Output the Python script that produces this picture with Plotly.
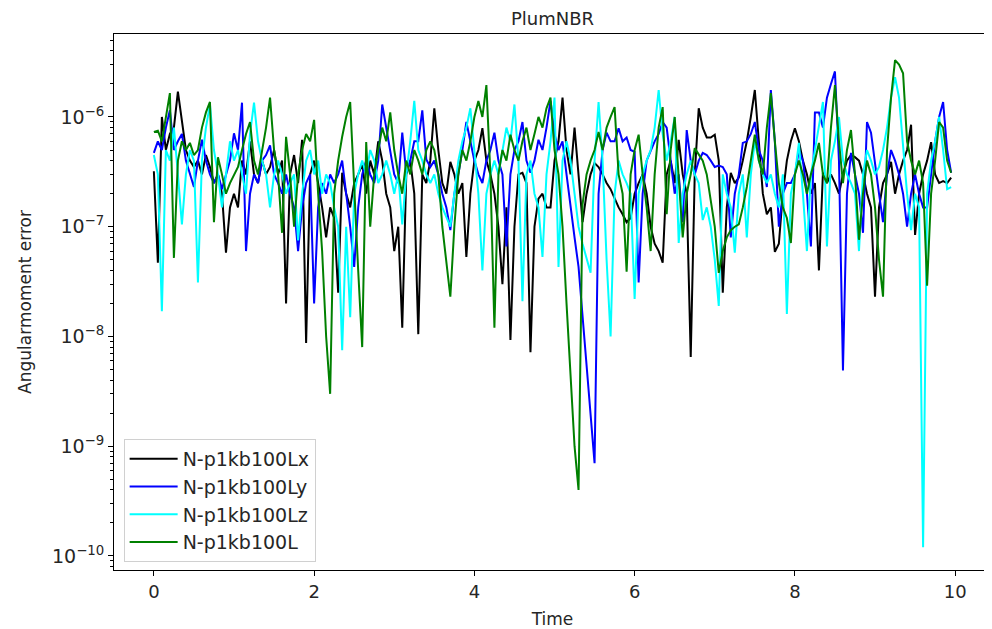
import numpy as np
import plotly.graph_objects as go

# Time samples
time = np.round(np.arange(200) * 0.05, 2)

err_lx = [
    3.2e-7, 4.7e-8, 1.0e-6, 5e-7, 7e-7, 8e-7, 1.7e-6, 9e-7, 5e-7, 4e-7,
    3.5e-7, 4e-7, 3e-7, 4.5e-7, 3.5e-7, 2.5e-7, 3e-7, 2e-7, 5.8e-8, 1.5e-7,
    2e-7, 1.5e-7, 4e-7, 3e-7, 6e-7, 3e-7, 2.5e-7, 4e-7, 3e-7, 3.5e-7,
    5e-7, 3e-7, 4e-7, 2e-8, 3e-7, 4.5e-7, 2.5e-7, 6.2e-7, 8.7e-9, 3e-7,
    4e-7, 2.5e-7, 1.5e-7, 8e-8, 1.5e-7, 1.2e-7, 2.5e-8, 3.1e-7, 2e-7, 1.5e-7,
    2.5e-7, 3e-7, 3.7e-7, 2e-7, 4e-7, 3e-7, 6e-7, 4e-7, 2e-7, 1.5e-7,
    6e-8, 1e-7, 1.2e-8, 3e-7, 4e-7, 2e-7, 1.05e-8, 3e-7, 2.5e-7, 4e-7,
    1.2e-6, 5e-7, 2.5e-7, 2e-7, 3.9e-7, 3e-7, 2e-7, 2.5e-7, 5.3e-8, 2e-7,
    4e-7, 5e-7, 7.9e-7, 4e-7, 3e-7, 2e-7, 1e-7, 3e-8, 1.5e-7, 9.3e-9,
    1e-7, 3e-7, 3.1e-7, 2.5e-7, 7.2e-9, 1e-7, 1.8e-7, 2e-7, 1.5e-7, 1.5e-7,
    4e-7, 6e-7, 1.5e-6, 5e-7, 3e-7, 8e-7, 3e-7, 1.1e-7, 2e-7, 3e-7,
    3.8e-7, 3.5e-7, 3e-7, 2.5e-7, 2.2e-7, 1.8e-7, 1.5e-7, 1.3e-7, 1.1e-7, 1.2e-7,
    2e-7, 2.5e-7, 3e-7, 2e-7, 1e-7, 7e-8, 6e-8, 4.7e-8, 3e-7, 4e-7,
    2.5e-7, 6.2e-7, 3e-7, 2e-7, 6.5e-9, 3e-7, 1.2e-6, 8e-7, 6.5e-7, 6.5e-7,
    6.9e-7, 4e-7, 2.5e-8, 1.5e-7, 3.1e-7, 2.5e-7, 2.8e-7, 4e-7, 6e-7, 1e-6,
    1.76e-6, 6e-7, 2e-7, 1.3e-7, 1.5e-7, 5.9e-8, 7e-8, 2e-7, 4e-7, 6e-7,
    7.9e-7, 6e-7, 4e-7, 3e-7, 2e-7, 2.5e-7, 4e-8, 3.1e-7, 2.5e-7, 3e-7,
    2.5e-7, 2e-7, 3e-7, 4e-7, 4.5e-7, 4.3e-7, 4e-7, 3e-7, 2e-7, 1.5e-7,
    2.3e-8, 1.5e-7, 2.5e-7, 3e-7, 3.9e-7, 2e-7, 3e-7, 4e-7, 5e-7, 8.5e-7,
    8.4e-8, 2e-7, 3e-7, 4e-7, 5.9e-7, 3e-7, 2.5e-7, 2.6e-7, 2.5e-7, 2.8e-7,
]

err_ly = [
    4.7e-7, 6e-7, 5e-7, 8e-7, 1.15e-6, 5e-7, 6e-7, 7e-7, 4e-7, 3e-7,
    2.3e-7, 4e-7, 6.2e-7, 4e-7, 3e-7, 2.5e-7, 3e-7, 2.2e-7, 3e-7, 4e-7,
    7.1e-7, 5e-7, 1.35e-6, 6e-8, 2e-7, 3e-7, 2.5e-7, 4e-7, 4.5e-7, 5.5e-7,
    3e-7, 2.5e-7, 2e-7, 3e-7, 2e-7, 1.5e-7, 6e-8, 1.5e-7, 2.5e-7, 3e-7,
    2e-8, 1.5e-7, 2.5e-7, 2e-7, 3e-7, 2.5e-7, 3e-7, 4e-7, 2e-7, 1e-7,
    4.3e-8, 1.5e-7, 3e-7, 4e-7, 3e-7, 2.5e-7, 4e-7, 1.3e-6, 8e-7, 5e-7,
    3e-7, 2.5e-7, 7.2e-7, 3.1e-7, 4e-7, 6e-7, 6e-7, 1.15e-6, 4.1e-7, 3.5e-7,
    4e-7, 3e-7, 2e-7, 1.5e-7, 9.3e-8, 2e-7, 3e-7, 5e-7, 9e-7, 6e-7,
    4e-7, 3e-7, 2.5e-7, 4e-7, 5e-7, 7.2e-7, 4e-7, 3e-7, 6.6e-8, 3e-7,
    5e-7, 6e-7, 9e-7, 4e-7, 3.1e-7, 4e-7, 6.2e-7, 5e-7, 8e-7, 1.4e-6,
    7e-7, 5e-7, 6e-7, 3e-7, 1.5e-7, 8e-8, 4.3e-8, 1.5e-8, 5.5e-9, 2e-9,
    7e-10, 2e-7, 5e-7, 7.2e-7, 6e-7, 6e-7, 7.9e-7, 6e-7, 6.5e-7, 5e-7,
    4.8e-7, 3.1e-8, 2e-7, 4e-7, 5e-7, 6e-7, 7e-7, 9e-7, 8e-7, 4e-7,
    2e-7, 3e-7, 1.1e-7, 7.6e-7, 4e-7, 3e-7, 4e-7, 4.7e-7, 4.5e-7, 4e-7,
    3.5e-7, 3.6e-7, 3.5e-7, 3e-7, 8e-8, 2e-7, 3e-7, 5.8e-7, 6e-7, 7e-7,
    9e-7, 5e-7, 4e-7, 2.3e-7, 1.76e-6, 6e-7, 1e-7, 2e-7, 2.5e-7, 2.5e-7,
    3e-7, 5e-7, 4e-7, 2e-7, 6.6e-8, 1.1e-6, 1.1e-6, 8e-7, 1.5e-6, 2e-6,
    2.6e-6, 4e-7, 4.9e-9, 2e-7, 4.7e-7, 3e-7, 2e-7, 8.8e-8, 9e-7, 7.2e-7,
    4e-7, 2e-7, 1.1e-7, 3e-7, 5e-7, 4e-7, 3e-7, 2e-7, 1e-7, 2e-7,
    3e-7, 2e-7, 1.5e-7, 1.5e-7, 3e-7, 6e-7, 1e-6, 1.37e-6, 5e-7, 3.1e-7,
]

err_lz = [
    4.5e-7, 3e-7, 1.7e-8, 5e-7, 4e-7, 8e-7, 3e-7, 1.05e-7, 3e-7, 5e-7,
    4e-7, 3.1e-8, 4e-7, 8e-7, 1.3e-6, 5e-7, 3e-7, 1.5e-7, 3e-7, 6e-7,
    4e-7, 5e-7, 3e-7, 2e-7, 7e-7, 1.35e-6, 6e-7, 4e-7, 3e-7, 1.5e-7,
    3e-7, 4e-7, 3e-7, 2e-7, 2.5e-7, 3e-7, 7.5e-8, 2e-7, 4e-7, 5e-7,
    3e-7, 4e-7, 2e-7, 3e-7, 2.5e-7, 1.5e-7, 1e-7, 7.5e-9, 1e-7, 1.5e-8,
    2e-7, 3e-7, 4e-7, 3e-7, 5e-7, 4e-7, 2.5e-7, 3e-7, 4e-7, 3e-7,
    2e-7, 3e-7, 1.05e-7, 3e-7, 6e-7, 1.4e-6, 5e-7, 4e-7, 3e-7, 2.5e-7,
    3e-7, 2e-7, 1.5e-7, 1.2e-7, 1e-7, 2e-7, 4e-7, 6e-7, 8e-7, 1.2e-6,
    5e-7, 2e-7, 4e-8, 2e-7, 3e-7, 4e-7, 3e-7, 5e-7, 8e-7, 6e-7,
    1.3e-6, 4e-7, 2.1e-8, 3e-7, 4e-7, 2e-7, 1.5e-7, 5.3e-8, 3e-7, 6e-7,
    1.5e-6, 4.3e-8, 4e-7, 6e-7, 4e-7, 2e-7, 1e-7, 7e-8, 5e-8, 3.8e-8,
    4e-7, 1.37e-6, 4e-7, 5e-8, 1e-8, 2e-7, 4e-7, 3e-7, 2.5e-7, 2e-7,
    2.2e-8, 2e-7, 3e-7, 4e-7, 5e-7, 8e-7, 1.76e-6, 7e-7, 4e-7, 6e-7,
    1e-6, 7.1e-8, 2e-7, 3e-7, 4e-7, 3e-7, 2.5e-7, 1.15e-7, 1.5e-7, 1e-7,
    5e-8, 1.9e-8, 3e-7, 2e-7, 1.5e-7, 5.8e-8, 2e-7, 3e-7, 8e-8, 3e-7,
    6e-7, 4e-7, 3e-7, 2.5e-7, 3e-7, 2e-7, 1.5e-7, 3e-7, 1.6e-8, 2e-7,
    3e-7, 5.8e-7, 2e-7, 6e-8, 3e-7, 5e-7, 8e-7, 1.37e-6, 6.6e-8, 4e-7,
    6e-7, 1e-6, 4e-7, 3e-7, 2.5e-7, 2e-7, 6e-8, 3e-7, 5e-7, 4e-7,
    3e-7, 3.5e-7, 5e-7, 8e-7, 1.5e-6, 2.3e-6, 1.5e-6, 5e-7, 2e-7, 9.3e-8,
    2e-7, 1.5e-7, 1.2e-10, 2e-7, 4e-7, 6e-7, 1e-6, 5e-7, 2.2e-7, 2.3e-7,
]

err_l = [
    7.3e-7, 7.5e-7, 6e-7, 1e-6, 1.65e-6, 5.2e-8, 4e-7, 6e-7, 5e-7, 5.8e-7,
    4.5e-7, 5e-7, 8e-7, 1.1e-6, 1.37e-6, 1.1e-7, 4.3e-7, 3e-7, 2e-7, 2.5e-7,
    3e-7, 3.5e-7, 5e-7, 7e-7, 9e-7, 4e-7, 3e-7, 5e-7, 8e-7, 1.5e-6,
    5e-7, 3e-7, 8.8e-8, 6.6e-7, 3e-7, 1e-7, 3e-7, 5e-7, 7e-7, 6e-7,
    9.4e-7, 2e-7, 6e-8, 1e-8, 3e-9, 2e-7, 4e-7, 6.6e-7, 1e-6, 1.37e-6,
    2e-7, 4e-8, 8e-9, 5.9e-7, 1e-7, 3e-7, 5e-7, 8e-7, 6e-7, 1.1e-6,
    5e-7, 3e-7, 2e-7, 4e-7, 3e-7, 5e-7, 4e-7, 3e-7, 5e-7, 6e-7,
    5e-7, 3e-7, 1e-7, 5e-8, 2.3e-8, 1e-7, 3e-7, 5e-7, 4e-7, 6e-7,
    1e-6, 1.4e-6, 1e-6, 1.95e-6, 3e-7, 1.2e-8, 3e-7, 5e-7, 4e-7, 6.9e-7,
    5e-7, 4e-7, 6e-7, 8e-7, 5e-7, 7e-7, 1e-6, 8e-7, 1.2e-6, 1.5e-6,
    5e-7, 3e-7, 1e-7, 2e-8, 4e-9, 1e-9, 4e-10, 1.6e-7, 3e-7, 4e-7,
    5e-7, 7.3e-7, 5e-7, 8e-7, 1e-6, 1.23e-6, 3e-7, 2e-7, 3.9e-8, 3e-7,
    5e-7, 6.9e-7, 3e-7, 1.5e-7, 6e-8, 3e-7, 8e-7, 1.23e-6, 1.3e-7, 5e-7,
    1e-6, 3e-7, 8e-8, 2e-7, 3e-7, 5.2e-7, 4.5e-7, 4e-7, 3e-7, 1.8e-7,
    1e-7, 3.8e-8, 6e-8, 8e-8, 9.3e-8, 1e-7, 1.05e-7, 1.5e-7, 2.3e-7, 4e-7,
    6.9e-7, 4e-7, 3e-7, 8e-7, 1.65e-6, 6e-7, 2.5e-7, 1.5e-7, 1.2e-7, 7.1e-8,
    3e-7, 4e-7, 3e-7, 2e-7, 3e-7, 4e-7, 5.8e-7, 3e-7, 2.5e-7, 8e-7,
    1.95e-6, 6e-7, 2.5e-7, 5e-7, 7.6e-7, 3e-7, 7.6e-8, 2e-7, 4e-7, 3e-7,
    1.5e-7, 5e-8, 2.3e-8, 5e-7, 1.5e-6, 3.3e-6, 3e-6, 2.5e-6, 6e-7, 4e-7,
    3e-7, 4e-7, 2.5e-7, 2.9e-8, 2e-7, 4e-7, 9e-7, 8e-7, 4e-7, 3.1e-7,
]

series_names = ["N-p1kb100Lx", "N-p1kb100Ly", "N-p1kb100Lz", "N-p1kb100L"]
series_values = [err_lx, err_ly, err_lz, err_l]
series_colors = ["#000000", "#0000ff", "#00ffff", "#008000"]

x_ticks = [0, 2, 4, 6, 8, 10]
y_exponents = [-10, -9, -8, -7, -6]

fig = go.Figure()
for name, vals, col in zip(series_names, series_values, series_colors):
    fig.add_trace(go.Scatter(
        x=time, y=vals, mode="lines", name=name, legendgroup=name,
        line=dict(color=col, width=2),
    ))

y_tickvals = [10.0 ** e for e in y_exponents]
y_ticktext = ["10<sup>\u2212%d</sup>" % (-e) for e in y_exponents]
minor_vals = [m * 10.0 ** e for e in range(-11, -5) for m in range(2, 10)]

xmin, xmax = float(time[0]), float(time[-1])
pad = 0.05 * (xmax - xmin)

# The page body adds an 8px offset, so the figure is 8px smaller than the window.
W, H = 984, 621
TXT = "#262626"

fig.update_layout(
    width=W, height=H,
    margin=dict(l=106, r=1, t=26, b=59),
    paper_bgcolor="white", plot_bgcolor="white",
    font=dict(family="DejaVu Sans", size=19, color=TXT),
    title=dict(text="PlumNBR", x=0.5, xref="paper", xanchor="center",
               y=1 - 11 / H, yref="container", yanchor="middle",
               font=dict(size=18, color=TXT)),
    showlegend=True,
    legend=dict(x=0.011, y=0.015, xanchor="left", yanchor="bottom",
                bgcolor="rgba(255,255,255,0.85)", bordercolor="#d0d0d0",
                borderwidth=1, font=dict(size=19, color=TXT),
                traceorder="grouped", tracegroupgap=0, itemwidth=48),
)
fig.update_xaxes(
    range=[xmin - pad, xmax + pad], tickmode="array", tickvals=x_ticks,
    ticks="outside", ticklen=5, tickcolor="black", showgrid=False, zeroline=False,
    showline=True, linecolor="black", linewidth=1, mirror=True,
    tickfont=dict(size=18, color=TXT),
    title=dict(text="Time", standoff=12, font=dict(size=17, color=TXT)),
)
fig.update_yaxes(
    type="log", range=[-10.128, -5.244], tickmode="array",
    tickvals=y_tickvals, ticktext=y_ticktext,
    ticks="outside", ticklen=5, tickcolor="black", showgrid=False, zeroline=False,
    showline=True, linecolor="black", linewidth=1, mirror=True,
    tickfont=dict(size=19, color=TXT),
    minor=dict(tickmode="array", tickvals=minor_vals, ticks="outside", ticklen=3,
               tickcolor="black", showgrid=False),
    title=dict(text="Angularmoment error", standoff=16, font=dict(size=17, color=TXT)),
)

fig.write_html("out.html")
